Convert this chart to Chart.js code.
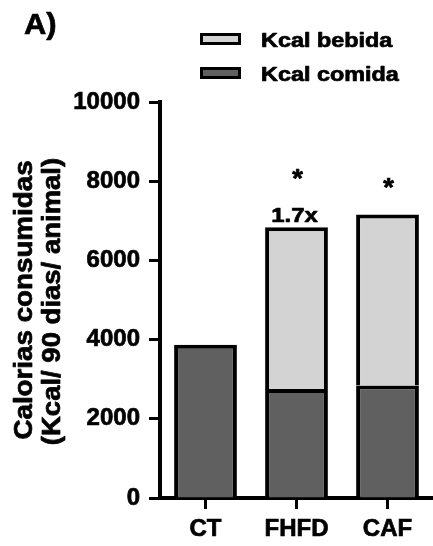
<!DOCTYPE html>
<html><head><meta charset="utf-8">
<script src="https://cdn.jsdelivr.net/npm/chart.js@4"></script>
<style>html,body{margin:0;padding:0;background:#fff}canvas{display:block}</style>
</head><body>
<canvas id="c" width="433" height="546"></canvas>
<script>
// ---- data ----
const categories = ['CT', 'FHFD', 'CAF'];
const kcalComida = [3870, 2750, 2840];
const kcalBebida = [null, 4090, 4320];
const yTicks = [0, 2000, 4000, 6000, 8000, 10000];
const foldLabels = ['', '1.7x', ''];
const sigMarks = ['', '*', '*'];
const seriesNames = ['Kcal comida', 'Kcal bebida'];
const yTitle = ['Calorias consumidas', '(Kcal/ 90 dias/ animal)'];
const panelLabel = 'A)';

const FONT = '"Liberation Sans", Arial, sans-serif';
const COL_COMIDA = '#606060';
const COL_BEBIDA = '#d3d3d3';

function stretchText(ctx, text, x, y, size, sx, align, rot) {
  ctx.save();
  ctx.font = 'bold ' + size + 'px ' + FONT;
  ctx.translate(x, y);
  if (rot) ctx.rotate(rot);
  ctx.scale(sx, 1);
  ctx.textAlign = align || 'left';
  ctx.textBaseline = 'alphabetic';
  ctx.fillStyle = '#000';
  ctx.strokeStyle = '#000';
  ctx.lineWidth = 0.7;
  ctx.lineJoin = 'round';
  ctx.strokeText(text, 0, 0);
  ctx.fillText(text, 0, 0);
  ctx.restore();
}

const decor = {
  id: 'decor',
  afterDraw(chart) {
    const ctx = chart.ctx;
    const xs = chart.scales.x, ys = chart.scales.y;
    // panel label
    stretchText(ctx, panelLabel, 24, 33.5, 30, 1.03, 'left');
    // legend (bebida on top, comida below)
    const items = [
      {name: seriesNames[1], color: COL_BEBIDA, y: 33},
      {name: seriesNames[0], color: COL_COMIDA, y: 67}
    ];
    items.forEach(it => {
      ctx.fillStyle = '#000';
      ctx.fillRect(200, it.y, 41, 12);
      ctx.fillStyle = it.color;
      ctx.fillRect(203, it.y + 3, 35, 6);
      stretchText(ctx, it.name, 261, it.y + 14, 20, 1.17, 'left');
    });
    // y title
    stretchText(ctx, yTitle[0], 32, 300, 25, 1.11, 'center', -Math.PI / 2);
    stretchText(ctx, yTitle[1], 60, 301.5, 25, 1.10, 'center', -Math.PI / 2);
    // annotations
    categories.forEach((c, i) => {
      const total = (kcalComida[i] || 0) + (kcalBebida[i] || 0);
      const x = xs.getPixelForValue(i);
      const top = ys.getPixelForValue(total);
      if (foldLabels[i]) {
        stretchText(ctx, foldLabels[i], x - 2, top - 5, 21, 1.14, 'center');
      }
      if (sigMarks[i]) {
        const off = foldLabels[i] ? 40 : 18;
        stretchText(ctx, sigMarks[i], x + 1, top - off, 26, 1.05, 'center');
      }
    });
  }
};

const tickFont = {family: FONT, size: 24, weight: 'bold'};

new Chart(document.getElementById('c'), {
  type: 'bar',
  data: {
    labels: categories,
    datasets: [
      {label: seriesNames[0], data: kcalComida, backgroundColor: COL_COMIDA, borderColor: '#000', borderWidth: 4, barPercentage: 0.69, categoryPercentage: 1},
      {label: seriesNames[1], data: kcalBebida, backgroundColor: COL_BEBIDA, borderColor: '#000', borderWidth: 4, barPercentage: 0.69, categoryPercentage: 1}
    ]
  },
  options: {
    responsive: false,
    animation: false,
    devicePixelRatio: 1,
    layout: {padding: {top: 102, left: 0, right: 0, bottom: 0}},
    plugins: {legend: {display: false}, tooltip: {enabled: false}},
    scales: {
      x: {
        stacked: true,
        offset: true,
        ticks: {font: tickFont, color: '#000', padding: 6, textStrokeColor: '#000', textStrokeWidth: 0.7},
        grid: {offset: false, drawOnChartArea: false, drawTicks: true, tickLength: 11, tickWidth: 3, tickColor: '#000'},
        border: {display: true, color: '#000', width: 4},
        afterFit: s => { s.height = 48; }
      },
      y: {
        stacked: true,
        min: 0,
        max: 10000,
        afterBuildTicks: s => { s.ticks = yTicks.map(v => ({value: v})); },
        ticks: {font: tickFont, color: '#000', padding: 9, textStrokeColor: '#000', textStrokeWidth: 0.7,
                callback: v => String(v)},
        grid: {drawOnChartArea: false, drawTicks: true, tickLength: 11, tickWidth: 3, tickColor: '#000'},
        border: {display: true, color: '#000', width: 4},
        afterFit: s => { s.width = 160; }
      }
    }
  },
  plugins: [decor]
});
</script>
</body></html>
